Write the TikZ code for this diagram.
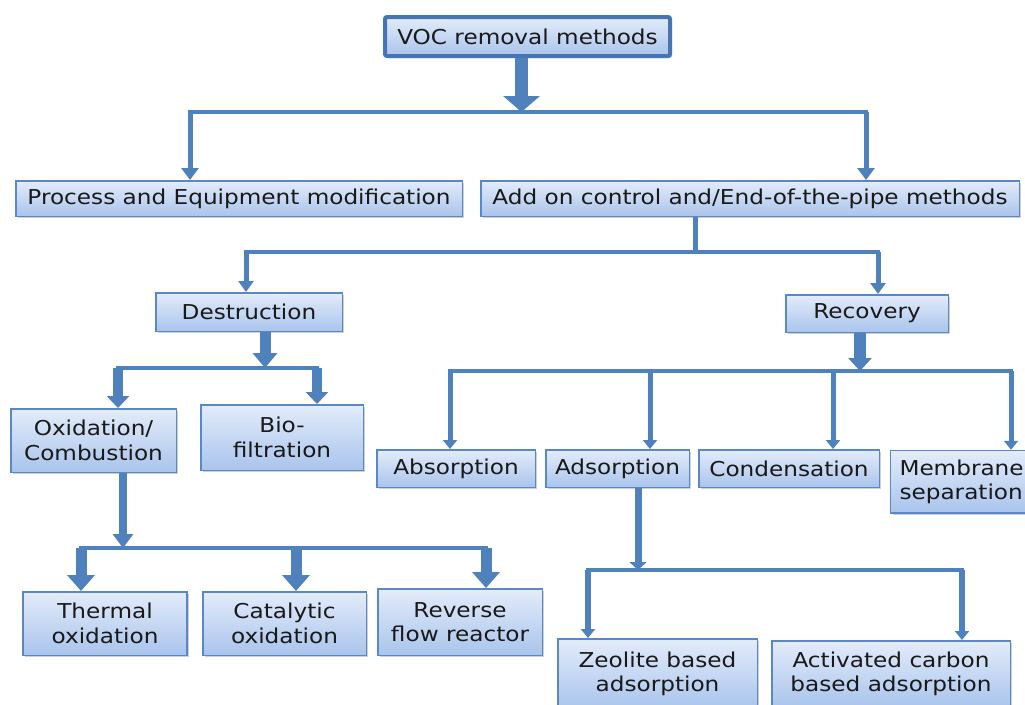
\documentclass[tikz,border=0pt]{standalone}
\usepackage{fontspec}
\setmainfont{DejaVu Sans}[FakeStretch=1.13]
\usetikzlibrary{arrows.meta,shadows}
\definecolor{bord}{HTML}{5A87C6}
\definecolor{ftop}{HTML}{E3ECFA}
\definecolor{fbot}{HTML}{A9C4EC}
\definecolor{arr}{HTML}{4F81BD}
\definecolor{vocb}{HTML}{4775B3}
\begin{document}
\begin{tikzpicture}[x=1pt,y=-1pt,
  box/.style={draw=bord, line width=1.5pt, top color=ftop, bottom color=fbot,
    inner sep=0pt, align=center, text=black!90,
    font=\fontsize{20.5}{24.5}\selectfont,
    drop shadow={shadow xshift=2pt,shadow yshift=-2pt,opacity=0.3,fill=black!60}},
  bus/.style={draw=arr, line width=4pt, line cap=rect},
  ar/.style n args={3}{draw=arr, line width=#1, -{Triangle[width=#2,length=#3]}}
]
\clip (0,0) rectangle (1025,704);
\fill[white] (0,0) rectangle (1025,704);

% nodes
\node[box, line width=4pt, draw=vocb, rounded corners=2pt, minimum width=285pt, minimum height=39pt] (voc) at (527.5,36.5) {VOC removal methods};
\node[box, minimum width=446.5pt, minimum height=35.5pt] (process) at (239,198.5) {Process and Equipment modification};
\node[box, minimum width=538.5pt, minimum height=35.5pt] (addon) at (750,198.5) {Add on control and/End-of-the-pipe methods};
\node[box, minimum width=186.5pt, minimum height=38.5pt] (destr) at (249,312) {Destruction};
\node[box, minimum width=162.5pt, minimum height=37.5pt] (recov) at (867,313.5) {Recovery};
\node[box, minimum width=165.5pt, minimum height=63.5pt] (oxid) at (93.5,440.5) {Oxidation/\\Combustion};
\node[box, minimum width=162.5pt, minimum height=65.5pt] (bio) at (282,437.5) {Bio-\\filtration};
\node[box, minimum width=158.5pt, minimum height=37.5pt] (absorp) at (456,468.5) {Absorption};
\node[box, minimum width=143.5pt, minimum height=37.5pt] (adsorp) at (617.5,468.5) {Adsorption};
\node[box, minimum width=180.5pt, minimum height=37.5pt] (conden) at (789,468.5) {Condensation};
\node[box, text width=165pt, align=left, inner xsep=9pt, minimum height=62.5pt, anchor=north west] (membr) at (889.75,449.75) {Membrane\\separation};
\node[box, minimum width=164pt, minimum height=63.5pt] (thermal) at (105,623.5) {Thermal\\oxidation};
\node[box, minimum width=163.5pt, minimum height=63.5pt] (catal) at (284.5,623.5) {Catalytic\\oxidation};
\node[box, minimum width=164.5pt, minimum height=66.5pt] (revers) at (460,622) {Reverse\\flow reactor};
\node[box, minimum width=199.5pt, minimum height=70.5pt] (zeol) at (657.5,674) {Zeolite based\\adsorption};
\node[box, minimum width=238.5pt, minimum height=66.5pt] (activ) at (891,674) {Activated carbon\\based adsorption};

% level 1
\coordinate (b1) at (521.5,112);
\coordinate (b1l) at (190,112);
\coordinate (b1r) at (866,112);
\draw[ar={13pt}{36pt}{16pt}] (voc.south -| b1) -- (b1);
\draw[bus] (b1l) -- (b1r);
\draw[ar={5pt}{17pt}{12pt}] (b1l) -- (b1l |- process.north);
\draw[ar={5pt}{17pt}{12pt}] (b1r) -- (b1r |- addon.north);

% level 2
\coordinate (b2) at (695,252);
\coordinate (b2l) at (246,252);
\coordinate (b2r) at (878,252);
\draw[draw=arr, line width=5pt] (addon.south -| b2) -- (b2);
\draw[bus] (b2l) -- (b2r);
\draw[ar={5pt}{15pt}{11pt}] (b2l) -- (b2l |- destr.north);
\draw[ar={5pt}{15pt}{11pt}] (b2r) -- (b2r |- recov.north);

% destruction
\coordinate (b3) at (265,368);
\coordinate (b3l) at (118,368);
\coordinate (b3r) at (317,368);
\draw[ar={11pt}{24pt}{15pt}] (destr.south -| b3) -- (b3);
\draw[bus] (b3l) -- (b3r);
\draw[ar={10pt}{22pt}{12pt}] (b3l) -- (b3l |- oxid.north);
\draw[ar={10pt}{22pt}{12pt}] (b3r) -- (b3r |- bio.north);

% oxidation
\coordinate (b4) at (123,548);
\coordinate (b4l) at (81,548);
\coordinate (b4m) at (296,548);
\coordinate (b4r) at (486,548);
\draw[ar={8pt}{20pt}{14pt}] (oxid.south -| b4) -- (b4);
\draw[bus] (b4l) -- (b4r);
\draw[ar={11pt}{27pt}{16pt}] (b4l) -- (b4l |- thermal.north);
\draw[ar={11pt}{27pt}{16pt}] (b4m) -- (b4m |- catal.north);
\draw[ar={11pt}{27pt}{16pt}] (b4r) -- (b4r |- revers.north);

% recovery
\coordinate (b5) at (860,371);
\coordinate (b5a) at (450,371);
\coordinate (b5b) at (650,371);
\coordinate (b5c) at (833,371);
\coordinate (b5d) at (1011,371);
\draw[ar={12pt}{23pt}{13pt}] (recov.south -| b5) -- (b5);
\draw[bus] (b5a) -- (b5d);
\draw[ar={5pt}{14pt}{9pt}] (b5a) -- (b5a |- absorp.north);
\draw[ar={5pt}{14pt}{9pt}] (b5b) -- (b5b |- adsorp.north);
\draw[ar={5pt}{14pt}{9pt}] (b5c) -- (b5c |- conden.north);
\draw[ar={5pt}{14pt}{9pt}] (b5d) -- (b5d |- membr.north);

% adsorption
\coordinate (b6) at (638,570);
\coordinate (b6l) at (588,570);
\coordinate (b6r) at (962,570);
\draw[ar={7pt}{17pt}{8pt}] (adsorp.south -| b6) -- (b6);
\draw[bus] (b6l) -- (b6r);
\draw[ar={6pt}{14pt}{9pt}] (b6l) -- (b6l |- zeol.north);
\draw[ar={6pt}{14pt}{9pt}] (b6r) -- (b6r |- activ.north);
\end{tikzpicture}
\end{document}
